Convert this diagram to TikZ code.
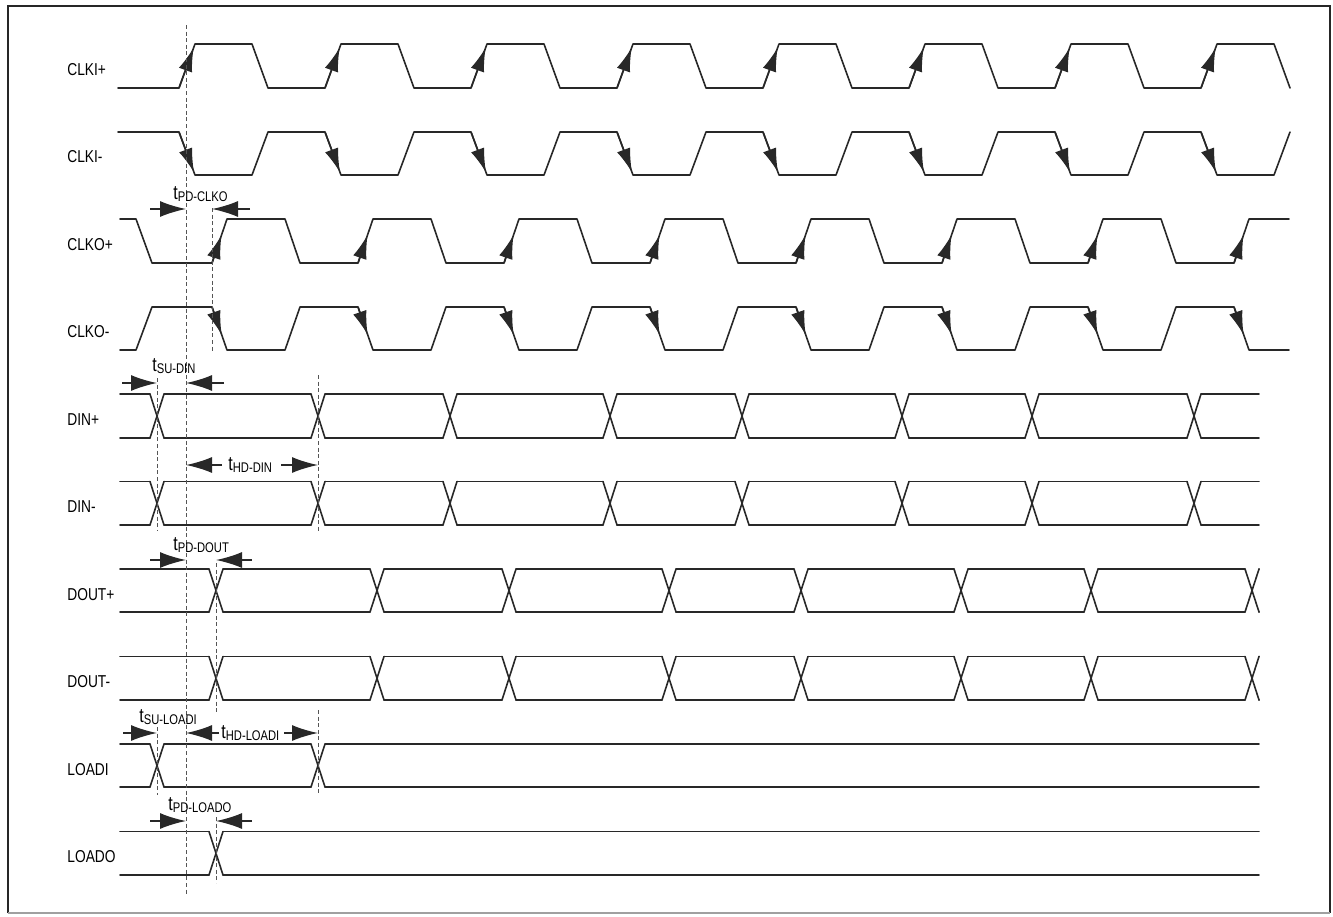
\documentclass[tikz,border=0pt]{standalone}
\usepackage{fontspec}
\newfontfamily\narrowsans{Liberation Sans}[FakeStretch=0.8]
\usetikzlibrary{arrows.meta}
\definecolor{traceGray}{RGB}{40,40,40}
\definecolor{guideGray}{RGB}{85,85,85}
\definecolor{frameGray}{RGB}{160,160,160}

% t with a lowered subscript, as in the timing names
\newcommand{\tname}[1]{{\fontsize{10}{12}\selectfont t}\raisebox{-1.2pt}{\fontsize{7}{8}\selectfont #1}}
% data bus: top y, bottom y, start x, end x, crossing points
\newcommand{\buswave}[5]{%
  \foreach \c in {#5}
    \draw[wave] (\c-7,#1) -- (\c+7,#2) (\c-7,#2) -- (\c+7,#1);
  \foreach \c [remember=\c as \p (initially #3-7)] in {#5,#4+7}
    \draw[wave] (\p+7,#1) -- (\c-7,#1) (\p+7,#2) -- (\c-7,#2);
}

\begin{document}
\begin{tikzpicture}[x=0.5pt, y=-0.5pt,
    wave/.style={traceGray, line width=0.8pt, line cap=round, line join=round},
    guide/.style={guideGray, line width=0.5pt, dash pattern=on 2pt off 1.3pt},
    edgetip/.style={traceGray, line width=0.8pt, -{Latex[length=12pt,width=7pt]}},
    dimtip/.style={traceGray, line width=0.8pt, -{Latex[length=13pt,width=8pt]}},
    sig/.style={anchor=base west, inner sep=0pt, font={\narrowsans\fontsize{8.6}{10}\selectfont}},
    tlabel/.style={anchor=base west, inner sep=0pt, font=\narrowsans}]
  \useasboundingbox (0,0) rectangle (1333,916);
  \draw[black!85, line width=1pt] (8,913) -- (8,6) -- (1330,6) -- (1330,913);
  \draw[frameGray, line width=0.6pt] (8,913) -- (1330,913);

  % signal names
  \foreach \sname [count=\i from 0] in {CLKI+,CLKI-,CLKO+,CLKO-,DIN+,DIN-,DOUT+,DOUT-,LOADI,LOADO}
    \node[sig] (lbl\i) at (67,{75+87.5*\i}) {\sname};

  % input clock pair
  \draw[wave] (118,88) \foreach \j in {0,...,7} { -- ({179+146*\j},88) -- ({195+146*\j},44) -- ({252+146*\j},44) -- ({268+146*\j},88) };
  \draw[wave] (118,132) \foreach \j in {0,...,7} { -- ({179+146*\j},132) -- ({195+146*\j},175) -- ({252+146*\j},175) -- ({268+146*\j},132) };
  \foreach \j in {0,...,7} {
    \draw[edgetip] ({179+146*\j},88) -- ({179+146*\j+0.92*16},{88-0.92*44});
    \draw[edgetip] ({179+146*\j},132) -- ({179+146*\j+0.94*16},{132+0.94*43});
  }

  % output clock pair
  \draw[wave] (120,219) -- (136,219) -- (152,263) \foreach \j in {0,...,6} { -- ({212+146*\j},263) -- ({227+146*\j},219) -- ({285+146*\j},219) -- ({300+146*\j},263) } -- (1234,263) -- (1249,219) -- (1289,219);
  \draw[wave] (120,350) -- (136,350) -- (152,307) \foreach \j in {0,...,6} { -- ({212+146*\j},307) -- ({227+146*\j},350) -- ({285+146*\j},350) -- ({300+146*\j},307) } -- (1234,307) -- (1249,350) -- (1289,350);
  \foreach \j in {0,...,7} {
    \draw[edgetip] ({212+146*\j},263) -- ({212+146*\j+0.64*15},{263-0.64*44});
    \draw[edgetip] ({212+146*\j},307) -- ({212+146*\j+0.65*15},{307+0.65*43});
  }

  % data and load lines
  \buswave{394}{438}{120}{1259}{157,318,450,610,742,902,1032,1194}
  \buswave{481.5}{525}{120}{1259}{157,318,450,610,742,902,1032,1194}
  \buswave{569}{612}{120}{1259}{216,377,509,669,801,961,1091,1252}
  \buswave{656.5}{700}{120}{1259}{216,377,509,669,801,961,1091,1252}
  \buswave{744}{787}{120}{1259}{157,318}
  \buswave{831.5}{875}{120}{1259}{216}

  % reference edges
  \draw[guide] (186,25) -- (186,894);
  \draw[guide] (212,208) -- (212,353);
  \draw[guide] (157,378) -- (157,530);
  \draw[guide] (318,375) -- (318,532);
  \draw[guide] (216,563) -- (216,713);
  \draw[guide] (157,727) -- (157,795);
  \draw[guide] (318,710) -- (318,795);
  \draw[guide] (216,817) -- (216,883);

  % timing parameters
  \node[tlabel] (pdclko) at (173,199) {\tname{PD-CLKO}};
  \draw[dimtip] (150,209) -- (186,209);
  \draw[dimtip] (250,209) -- (212,209);

  \node[tlabel] (sudin) at (152,371) {\tname{SU-DIN}};
  \draw[dimtip] (122,383) -- (157,383);
  \draw[dimtip] (224,383) -- (186,383);

  \node[tlabel] (hddin) at (228,470) {\tname{HD-DIN}};
  \draw[dimtip] (222,465) -- (186,465);
  \draw[dimtip] (281,465) -- (318,465);

  \node[tlabel] (pddout) at (173,550) {\tname{PD-DOUT}};
  \draw[dimtip] (150,560) -- (186,560);
  \draw[dimtip] (252,560) -- (216,560);

  \node[tlabel] (suloadi) at (139,722) {\tname{SU-LOADI}};
  \draw[dimtip] (123,733) -- (157,733);
  \node[tlabel] (hdloadi) at (221,738) {\tname{HD-LOADI}};
  \draw[dimtip] (219,733) -- (186,733);
  \draw[dimtip] (284,733) -- (318,733);

  \node[tlabel] (pdloado) at (168,810) {\tname{PD-LOADO}};
  \draw[dimtip] (150,821) -- (186,821);
  \draw[dimtip] (252,821) -- (216,821);
\end{tikzpicture}
\end{document}
